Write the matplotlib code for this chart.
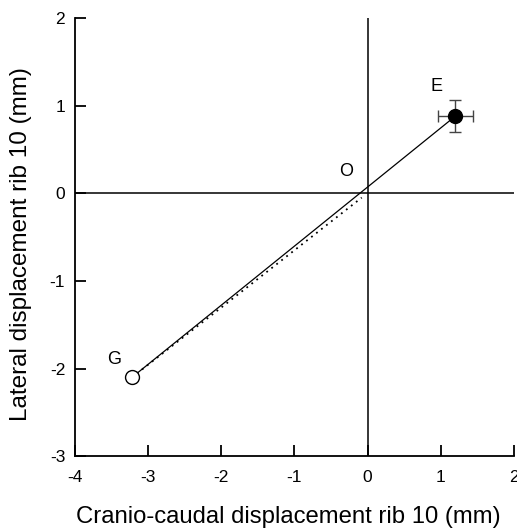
import numpy as np
import matplotlib
matplotlib.use("Agg")
import matplotlib.pyplot as plt

plt.rcParams['font.family'] = ['Liberation Sans', 'DejaVu Sans']
plt.rcParams['axes.unicode_minus'] = False

# points: E (end), G (start), O (origin)
e_x, e_y = 1.2, 0.88
e_xerr, e_yerr = 0.24, 0.18
g_x, g_y = -3.22, -2.10
dot_end = (-0.08, -0.05)

labels = ["E", "O", "G"]
label_x = [0.94, -0.30, -3.46]
label_y = [1.22, 0.25, -1.90]

xticks = [-4, -3, -2, -1, 0, 1, 2]
yticks = [-3, -2, -1, 0, 1, 2]

fig = plt.figure(figsize=(5.17, 5.28), dpi=100)
ax = fig.add_axes([0.145, 0.136, 0.849, 0.830])

ax.axhline(0, color='black', lw=1.1)
ax.axvline(0, color='black', lw=1.1)

ax.plot([g_x, e_x], [g_y, e_y], color='black', lw=0.9)
ax.plot([g_x, dot_end[0]], [g_y, dot_end[1]], color='black', lw=1.3, ls=(0, (1, 2.5)))

ax.errorbar([e_x], [e_y], xerr=[e_xerr], yerr=[e_yerr], fmt='o', color='black',
            ms=10, ecolor='#444444', elinewidth=1, capsize=4, capthick=1, zorder=5)
ax.plot([g_x], [g_y], 'o', mfc='white', mec='black', ms=10, mew=1, zorder=5)

for t, x, y in zip(labels, label_x, label_y):
    ax.text(x, y, t, fontsize=13, ha='center', va='center')

ax.set_xlim(-4, 2)
ax.set_ylim(-3, 2)
ax.set_xticks(xticks)
ax.set_yticks(yticks)
ax.spines['top'].set_visible(False)
ax.spines['right'].set_visible(False)
ax.spines['left'].set_linewidth(1.3)
ax.spines['bottom'].set_linewidth(1.3)
ax.tick_params(direction='in', length=8, width=1.3, labelsize=12.5)
ax.tick_params(axis='x', pad=10)
ax.tick_params(axis='y', pad=7)

ax.set_xlabel('Cranio-caudal displacement rib 10 (mm)', fontsize=17.2)
ax.set_ylabel('Lateral displacement rib 10 (mm)', fontsize=17.5)
ax.xaxis.set_label_coords(0.485, -0.113)
ax.yaxis.set_label_coords(-0.097, 0.484)

fig.savefig('out.png', dpi=100)
